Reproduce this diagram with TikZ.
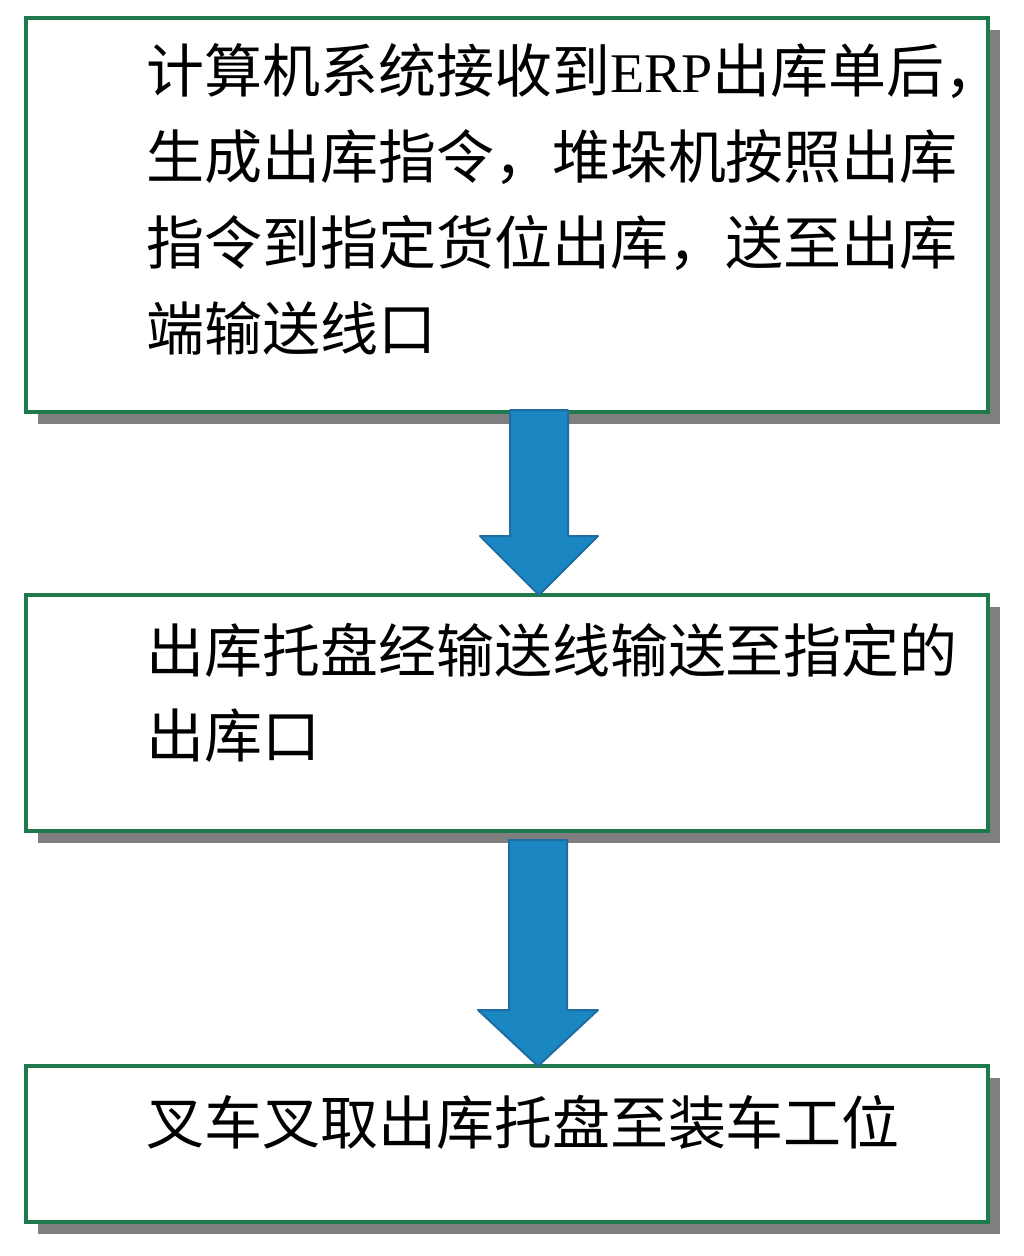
\documentclass[tikz,border=0pt]{standalone}
\usepackage{fontspec}
\newfontfamily\cjk{Noto Sans CJK SC}
\newfontfamily\lat{Liberation Serif}
\usetikzlibrary{calc,backgrounds}
\definecolor{boxgreen}{HTML}{1E7A4C}
\definecolor{shadowc}{HTML}{7F7F7F}
\definecolor{arrfill}{HTML}{1A87C2}
\definecolor{arrdraw}{HTML}{1F6CA3}
\tikzset{
  x=1pt, y=-1pt,
  box/.style={draw=boxgreen, line width=3.5pt, fill=white, inner sep=0pt, outer sep=0pt, minimum width=962pt},
  line/.style={anchor=base west, inner sep=0pt, outer sep=0pt, font=\cjk\fontsize{58}{70}\selectfont},
  blockarrow/.style={fill=arrfill, draw=arrdraw, line width=2pt, line join=round},
  shadowbox/.style={fill=shadowc}
}
\begin{document}
\begin{tikzpicture}
\useasboundingbox (0,0) rectangle (1024,1256);

% boxes
\node[box, minimum height=394pt] (b1) at (507,215) {};
\node[box, minimum height=236pt] (b2) at (507,713) {};
\node[box, minimum height=156pt] (b3) at (507,1144) {};

\begin{pgfonlayer}{background}
  \fill[white] (0,0) rectangle (1024,1256);
  \foreach \b in {b1,b2,b3}{
    \fill[shadowbox] ([shift={(12,12)}]\b.south west) rectangle ([shift={(12,12)}]\b.north east);
  }
\end{pgfonlayer}

% texts
\node[line] (t11) at (146,92) {计算机系统接收到{\lat\fontsize{56}{60}\selectfont ERP}出库单后，};
\node[line] (t12) at (146,178) {生成出库指令，堆垛机按照出库};
\node[line] (t13) at (146,264) {指令到指定货位出库，送至出库};
\node[line] (t14) at (146,350) {端输送线口};

\node[line] (t21) at (146,672) {出库托盘经输送线输送至指定的};
\node[line] (t22) at (146,757) {出库口};

\node[line] (t31) at (146,1144) {叉车叉取出库托盘至装车工位};

% block arrows
\coordinate (a1top) at ($(b1.south)+(32,-2)$);
\coordinate (a1tip) at (b2.north -| a1top);
\draw[blockarrow] ($(a1top)+(-29,0)$) -- ($(a1top)+(29,0)$) -- ($(a1top)+(29,126)$)
  -- ($(a1top)+(59,126)$) -- (a1tip) -- ($(a1top)+(-59,126)$) -- ($(a1top)+(-29,126)$) -- cycle;

\coordinate (a2top) at ($(b2.south)+(31,9)$);
\coordinate (a2tip) at (b3.north -| a2top);
\draw[blockarrow] ($(a2top)+(-29,0)$) -- ($(a2top)+(29,0)$) -- ($(a2top)+(29,170)$)
  -- ($(a2top)+(60,170)$) -- (a2tip) -- ($(a2top)+(-60,170)$) -- ($(a2top)+(-29,170)$) -- cycle;
\end{tikzpicture}
\end{document}
